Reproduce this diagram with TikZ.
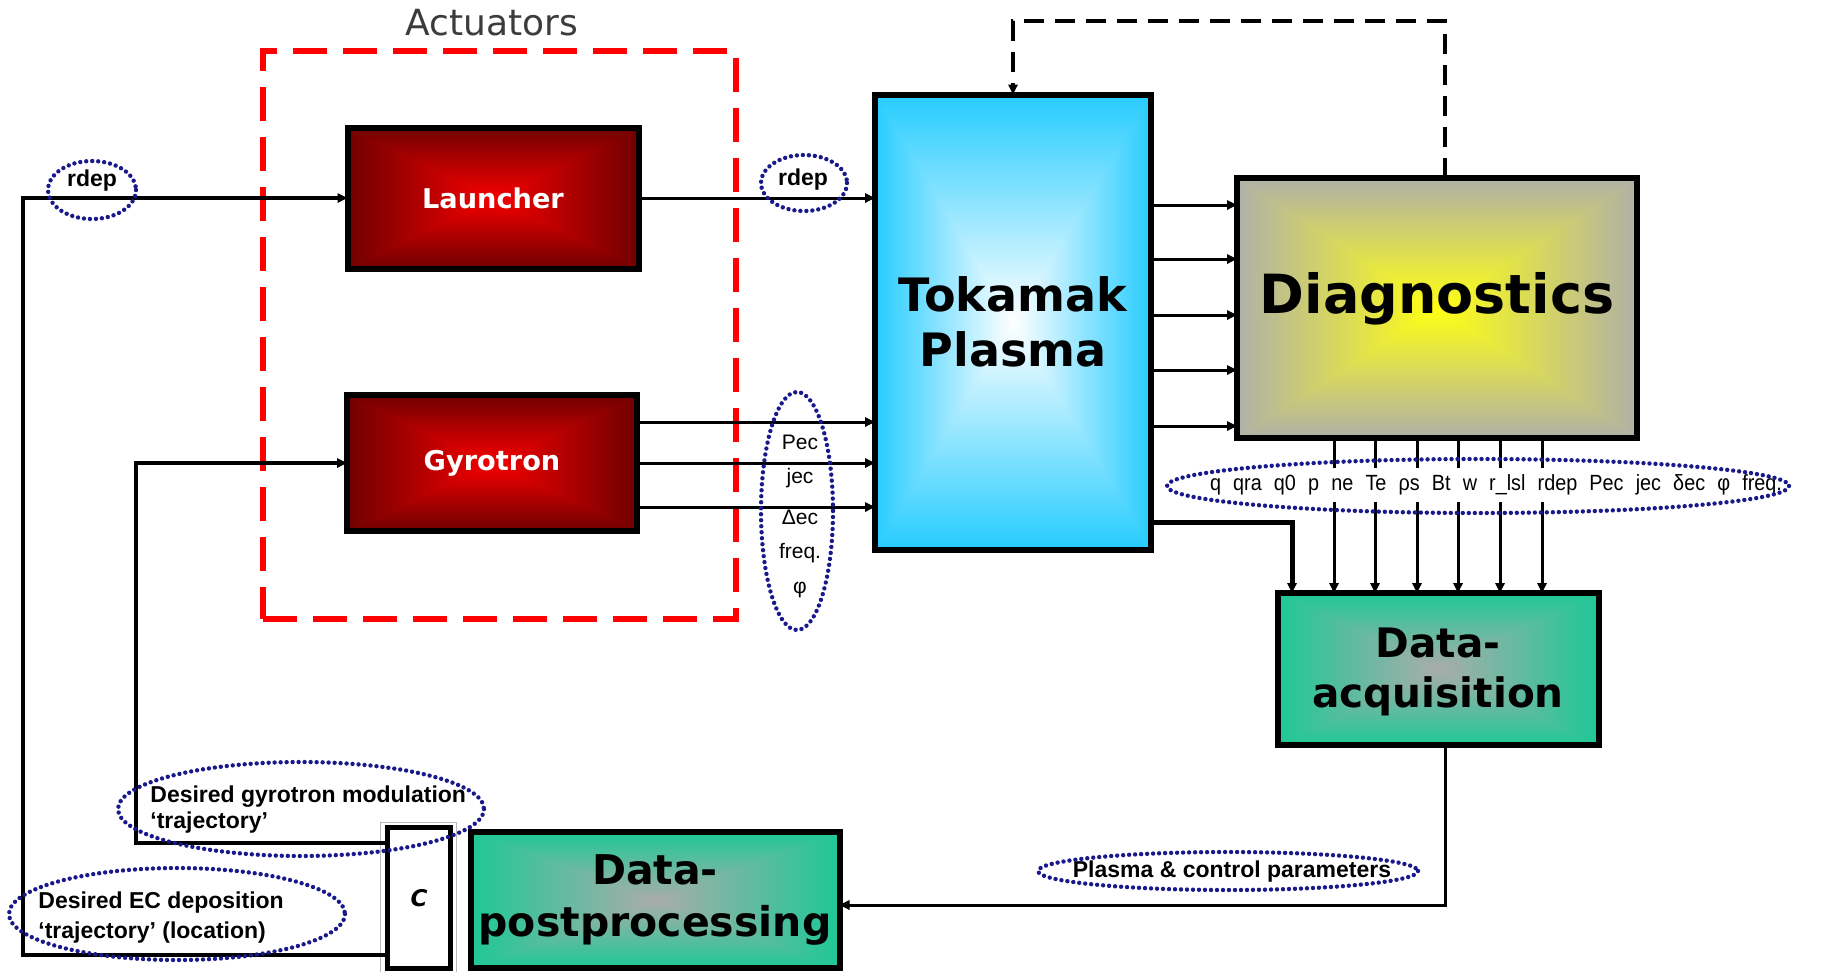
\documentclass[tikz,border=0pt]{standalone}
\usepackage{fontspec}
\setmainfont{DejaVu Sans}
\newfontfamily\arialfont{Liberation Sans}
\newfontfamily\narrowfont[FakeStretch=0.9]{Liberation Sans}
\usetikzlibrary{arrows.meta,calc}

\definecolor{redin}{RGB}{245,0,0}
\definecolor{redout}{RGB}{112,0,0}
\definecolor{tokin}{RGB}{255,255,255}
\definecolor{tokout}{RGB}{38,204,255}
\definecolor{diagin}{RGB}{255,255,20}
\definecolor{diagout}{RGB}{176,176,168}
\definecolor{dain}{RGB}{170,172,170}
\definecolor{daout}{RGB}{30,200,150}
\definecolor{dotblue}{RGB}{25,25,140}
\definecolor{titlegray}{RGB}{60,60,60}

% rectangular ("from centre") gradient; the path box maps to the inner half of the shading square
\newcommand\declrectshading[3]{%
 \pgfdeclarefunctionalshading[#2,#3]{#1}{\pgfpoint{-50bp}{-50bp}}{\pgfpoint{50bp}{50bp}}{%
  \pgfshadecolortorgb{#2}{\rsin}%
  \pgfshadecolortorgb{#3}{\rsout}%
  \pgfmathsetmacro\rsdr{\rsoutred-\rsinred}%
  \pgfmathsetmacro\rsdg{\rsoutgreen-\rsingreen}%
  \pgfmathsetmacro\rsdb{\rsoutblue-\rsinblue}%
 }{%
  abs exch abs 2 copy sub abs add add 50 div
  dup 1 sub abs neg add 1 add 2 div
  dup \rsdr\space mul \rsinred\space add exch
  dup \rsdg\space mul \rsingreen\space add exch
  \rsdb\space mul \rsinblue\space add
 }}
\declrectshading{redsh}{redin}{redout}
\declrectshading{toksh}{tokin}{tokout}
\declrectshading{diagsh}{diagin}{diagout}
\declrectshading{dash}{dain}{daout}

\tikzset{
 blk/.style={draw=black, line width=3pt, outer sep=0pt, inner sep=0pt, align=center},
 redbox/.style={blk, shade, shading=redsh, text=white, font=\fontsize{13.6}{16}\selectfont\bfseries},
 arr/.style={line width=1.5pt, -{Triangle[length=5pt,width=4.6pt]}},
 fbarr/.style={line width=2pt, -{Triangle[length=5pt,width=4.6pt]}},
 dasharr/.style={line width=1.8pt, dash pattern=on 10pt off 5.5pt, -{Triangle[length=5pt,width=4.6pt]}},
 reddash/.style={draw=red, line width=3pt, dash pattern=on 17pt off 8pt, outer sep=0pt, inner sep=0pt},
 dots/.style={draw=dotblue, line width=2.2pt, dash pattern=on 0pt off 3pt, line cap=round},
 lbl/.style={font=\arialfont\bfseries\fontsize{11.5}{13}\selectfont, inner sep=0pt},
 plbl/.style={font=\arialfont\fontsize{10.5}{12}\selectfont, inner sep=0pt},
}

\begin{document}
\begin{tikzpicture}[x=0.5pt,y=-0.5pt]
\useasboundingbox (0,0) rectangle (1824,971);

% actuators group
\node[reddash, minimum width=236.5pt, minimum height=284pt] (act) at (499.5,335) {};
\node[font=\fontsize{18}{21}\selectfont, text=titlegray, inner sep=0pt] (acttitle) at (492,23) {Actuators};

% blocks
\node[redbox, minimum width=145.5pt, minimum height=70.5pt] (launcher) at (493,198) {Launcher};
\node[redbox, minimum width=145pt, minimum height=68pt] (gyro) at (492,463) {Gyrotron};
\node[blk, shade, shading=toksh, minimum width=138pt, minimum height=227.5pt,
      font=\fontsize{23}{27.5}\selectfont\bfseries] (tok) at (1013,322) {Tokamak\\Plasma};
\node[blk, shade, shading=diagsh, minimum width=200pt, minimum height=130pt, text depth=15pt,
      font=\fontsize{27}{32}\selectfont\bfseries] (diag) at (1437,308) {Diagnostics};
\node[blk, shade, shading=dash, minimum width=160.5pt, minimum height=76pt, text depth=1pt,
      font=\fontsize{20.3}{25}\selectfont\bfseries] (daq) at (1438,669) {Data-\\acquisition};
\node[blk, shade, shading=dash, minimum width=184.5pt, minimum height=68pt,
      font=\fontsize{20.5}{26}\selectfont\bfseries] (post) at (655,900) {Data-\\postprocessing};
\node[blk, line width=2.5pt, fill=white, minimum width=31.5pt, minimum height=70.5pt,
      font=\fontsize{11.5}{13}\selectfont\bfseries\itshape] (cbox) at (419,898) {C};
\draw[gray!55, line width=0.8pt] ($(cbox.north west)+(-7,-5)$) rectangle ($(cbox.south east)+(6,6)$);

% feedback from C
\coordinate (lc) at (23,198);
\coordinate (gc) at (136,463);
\draw[fbarr] (cbox.west |- 0,955) -| (lc) -- (launcher.west);
\draw[fbarr] (cbox.west |- 0,843) -| (gc) -- (gyro.west);

% actuators to plasma
\draw[arr] (launcher.east) -- (tok.west |- launcher.east);
\draw[arr] (gyro.east |- 0,422) -- (tok.west |- 0,422);
\draw[arr] (gyro.east) -- (tok.west |- gyro.east);
\draw[arr] (gyro.east |- 0,507) -- (tok.west |- 0,507);

% plasma to diagnostics
\foreach \y in {205,259,315,370,426}
  \draw[arr] (tok.east |- 0,\y) -- (diag.west |- 0,\y);

% plasma to data acquisition
\draw[arr, line width=2.5pt] (tok.east |- 0,522) -| (daq.north -| 1292,0);

% diagnostics to data acquisition
\foreach \x in {1334,1375,1417,1458,1500,1542}
  \draw[arr] (diag.south -| \x,0) -- (daq.north -| \x,0);

% parameter row
\node[fill=white, inner sep=0pt, minimum height=17pt] (params) at (1496,485)
  {\narrowfont\fontsize{11}{13}\selectfont\makebox[286pt][s]{q qra q0 p ne Te ρs Bt w r\_lsl rdep Pec jec δec φ freq.}};

% data acquisition to postprocessing
\coordinate (dc) at (1445,905);
\draw[arr] (daq.south -| dc) -- (dc) -- (post.east |- dc);

% dashed feedback diagnostics -> plasma
\coordinate (fbtop) at (1445,21);
\draw[dasharr] (diag.north -| fbtop) -- (fbtop) -| (tok.north);

% labels
\node[lbl] (rdepa) at (92,181) {rdep};
\node[lbl] (rdepb) at (803,180) {rdep};
\node[plbl] (pec) at (800,442) {Pec};
\node[plbl] (jec) at (800,478) {jec};
\node[plbl] (dec) at (800,517) {Δec};
\node[plbl] (freq) at (800,553) {freq.};
\node[plbl] (phi) at (800,590) {φ};
\node[lbl, anchor=west, align=left, font=\arialfont\bfseries\fontsize{11.5}{13}\selectfont] (desgyro) at (150,810)
  {Desired gyrotron modulation\\‘trajectory’};
\node[lbl, anchor=west, align=left, font=\arialfont\bfseries\fontsize{11.5}{15}\selectfont] (desec) at (38,918)
  {Desired EC deposition\\‘trajectory’ (location)};
\node[lbl] (pcp) at (1232,872) {Plasma \& control parameters};

% dotted ellipses
\draw[dots] (92,190) ellipse [x radius=44, y radius=29];
\draw[dots] (804,183) ellipse [x radius=43, y radius=28];
\draw[dots] (797,511) ellipse [x radius=36, y radius=119];
\draw[dots] (1478,486) ellipse [x radius=311, y radius=27];
\draw[dots] (301,809) ellipse [x radius=183, y radius=47];
\draw[dots] (177,914) ellipse [x radius=168, y radius=46];
\draw[dots] (1228,871) ellipse [x radius=190, y radius=19];
\end{tikzpicture}
\end{document}
